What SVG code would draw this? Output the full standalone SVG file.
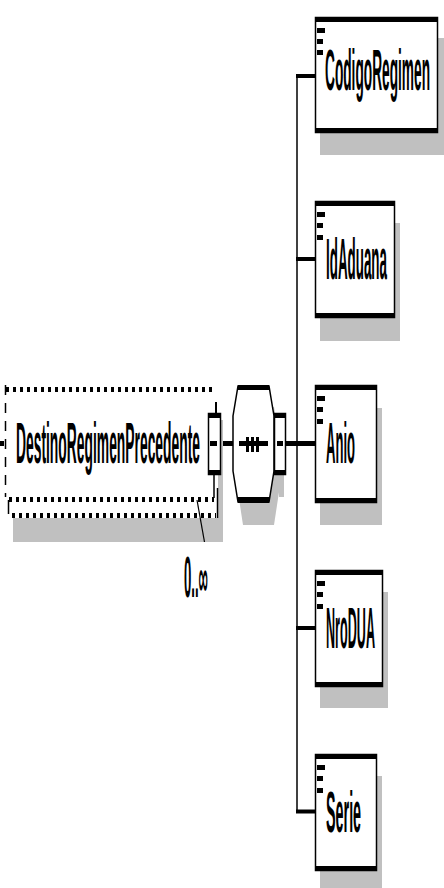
<svg xmlns="http://www.w3.org/2000/svg" width="444" height="888" viewBox="0 0 444 888">
<style>
.shadow{fill:#c0c0c0;stroke:none}
.box{fill:#fff;stroke:#000;stroke-width:1.5}
.bar{fill:#000;stroke:none}
.lbl{font-family:"Liberation Sans",Arial,sans-serif;font-size:57px;font-weight:bold;fill:#000}
.conn{stroke:#000;fill:none}
.dh{stroke:#000;stroke-width:5;stroke-dasharray:3 4}
.dv{stroke:#000;stroke-width:1.5;stroke-dasharray:10 8}
</style>
<rect width="444" height="888" fill="#fff"/>

<g id="connectors">
  <line class="conn" x1="0" y1="443.5" x2="4" y2="443.5" stroke-width="5"/>
  <line class="conn" x1="221" y1="443.5" x2="233" y2="443.5" stroke-width="5"/>
  <line class="conn" x1="286" y1="443.5" x2="315" y2="443.5" stroke-width="5"/>
  <line class="conn" x1="297" y1="75" x2="297" y2="813" stroke-width="1.5"/>
  <line class="conn" x1="296" y1="76" x2="315" y2="76" stroke-width="4"/>
  <line class="conn" x1="296" y1="259" x2="315" y2="259" stroke-width="4"/>
  <line class="conn" x1="296" y1="628" x2="315" y2="628" stroke-width="4"/>
  <line class="conn" x1="296" y1="811.5" x2="315" y2="811.5" stroke-width="4"/>
</g>

<g id="DestinoRegimenPrecedente">
  <rect class="shadow" x="13" y="518" width="210" height="24"/>
  <rect class="shadow" x="218" y="420" width="5" height="122"/>
  <rect x="8" y="403" width="210" height="113" fill="#fff"/>
  <line class="dh" x1="12" y1="515.5" x2="216" y2="515.5"/>
  <line x1="8.5" y1="500" x2="8.5" y2="514" stroke="#000" stroke-width="1.5"/>
  <line x1="217.5" y1="488" x2="217.5" y2="518" stroke="#000" stroke-width="1.5"/>
  <rect x="5" y="385" width="209" height="114" fill="#fff"/>
  <line class="dh" x1="6" y1="389.5" x2="214" y2="389.5"/>
  <line class="dh" x1="9" y1="499.5" x2="214" y2="499.5"/>
  <line class="dv" x1="5.5" y1="385" x2="5.5" y2="497"/>
  <line x1="216" y1="402" x2="216" y2="413" stroke="#000" stroke-width="2"/>
  <line x1="214" y1="475" x2="214" y2="498" stroke="#000" stroke-width="1.5"/>
  <text class="lbl" transform="translate(16,463) scale(0.245,1)" font-size="60" textLength="751" lengthAdjust="spacingAndGlyphs">DestinoRegimenPrecedente</text>
  <rect class="box" x="208.5" y="413.5" width="12" height="61"/>
  <rect class="bar" x="208" y="413" width="13" height="5"/>
  <rect class="bar" x="208" y="470" width="13" height="5"/>
  <rect class="bar" x="210" y="441" width="7" height="5"/>
  <line x1="197" y1="500" x2="204.5" y2="542" stroke="#000" stroke-width="1.2"/>
  <text class="lbl" transform="translate(184,597) scale(0.22,1)" font-size="60" textLength="109" lengthAdjust="spacingAndGlyphs">0..∞</text>
</g>

<g id="sequence">
  <polygon class="shadow" points="243,407 274,407 279,437 279,492 274,525 243,525 238,492 238,437"/>
  <polygon class="box" points="238,386 269,386 274,416 274,471 269,502 238,502 233,471 233,416"/>
  <rect class="bar" x="238" y="385" width="31" height="5"/>
  <rect class="bar" x="238" y="497" width="31" height="6"/>
  <rect class="bar" x="239" y="441" width="29" height="5"/>
  <rect class="bar" x="246" y="437" width="3" height="15"/>
  <rect class="bar" x="251" y="437" width="3" height="15"/>
  <rect class="bar" x="256" y="437" width="3" height="15"/>
  <rect class="shadow" x="279" y="435" width="5" height="62"/>
  <rect class="box" x="274.5" y="413.5" width="11" height="61"/>
  <rect class="bar" x="274" y="413" width="12" height="5"/>
  <rect class="bar" x="274" y="470" width="12" height="5"/>
  <rect class="bar" x="277" y="441" width="6" height="5"/>
</g>

<g id="CodigoRegimen">
  <rect class="shadow" x="320" y="38" width="124" height="117"/>
  <rect class="box" x="315.5" y="17.5" width="122" height="115"/>
  <rect class="bar" x="315" y="17" width="123" height="5"/>
  <rect class="bar" x="315" y="128" width="123" height="5"/>
  <rect class="bar" x="317" y="28" width="8" height="5"/>
  <rect class="bar" x="317" y="39" width="6" height="5"/>
  <rect class="bar" x="317" y="50" width="6" height="5"/>
  <text class="lbl" transform="translate(325,90) scale(0.25,1)" textLength="420" lengthAdjust="spacingAndGlyphs">CodigoRegimen</text>
</g>

<g id="IdAduana">
  <rect class="shadow" x="320" y="223" width="80" height="118"/>
  <rect class="box" x="315.5" y="201.5" width="79" height="116"/>
  <rect class="bar" x="315" y="201" width="80" height="5"/>
  <rect class="bar" x="315" y="313" width="80" height="5"/>
  <rect class="bar" x="317" y="212" width="8" height="5"/>
  <rect class="bar" x="317" y="223" width="6" height="5"/>
  <rect class="bar" x="317" y="235" width="6" height="5"/>
  <text class="lbl" transform="translate(326,279) scale(0.25,1)" textLength="244" lengthAdjust="spacingAndGlyphs">IdAduana</text>
</g>

<g id="Anio">
  <rect class="shadow" x="320" y="408" width="62" height="117"/>
  <rect class="box" x="315.5" y="385.5" width="61" height="117"/>
  <rect class="bar" x="315" y="385" width="62" height="5"/>
  <rect class="bar" x="315" y="498" width="62" height="5"/>
  <rect class="bar" x="317" y="396" width="8" height="5"/>
  <rect class="bar" x="317" y="407" width="6" height="5"/>
  <rect class="bar" x="317" y="419" width="6" height="5"/>
  <text class="lbl" transform="translate(326,463) scale(0.25,1)" textLength="116" lengthAdjust="spacingAndGlyphs">Anio</text>
</g>

<g id="NroDUA">
  <rect class="shadow" x="320" y="592" width="68" height="116"/>
  <rect class="box" x="315.5" y="570.5" width="67" height="116"/>
  <rect class="bar" x="315" y="570" width="68" height="5"/>
  <rect class="bar" x="315" y="682" width="68" height="5"/>
  <rect class="bar" x="317" y="581" width="8" height="5"/>
  <rect class="bar" x="317" y="592" width="6" height="5"/>
  <rect class="bar" x="317" y="604" width="6" height="5"/>
  <text class="lbl" transform="translate(326,648) scale(0.23,1)" textLength="213" lengthAdjust="spacingAndGlyphs">NroDUA</text>
</g>

<g id="Serie">
  <rect class="shadow" x="320" y="776" width="62" height="112"/>
  <rect class="box" x="315.5" y="754.5" width="61" height="116"/>
  <rect class="bar" x="315" y="754" width="62" height="5"/>
  <rect class="bar" x="315" y="866" width="62" height="5"/>
  <rect class="bar" x="317" y="765" width="8" height="5"/>
  <rect class="bar" x="317" y="776" width="6" height="5"/>
  <rect class="bar" x="317" y="788" width="6" height="5"/>
  <text class="lbl" transform="translate(326,832) scale(0.26,1)" textLength="135" lengthAdjust="spacingAndGlyphs">Serie</text>
</g>
</svg>
